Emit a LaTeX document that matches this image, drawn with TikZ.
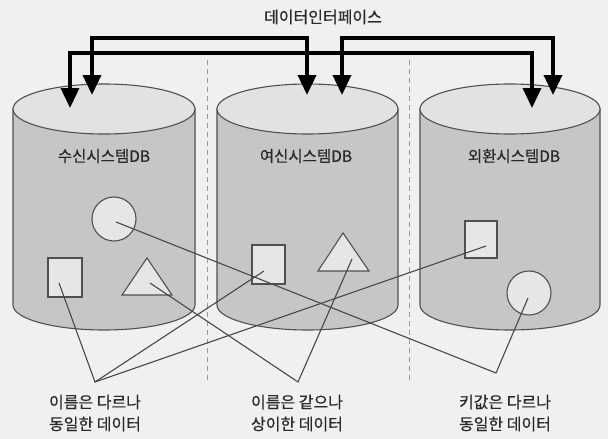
\documentclass[tikz,border=0pt]{standalone}
\usepackage{fontspec}
\newfontfamily\kr[FakeBold=0.6]{Noto Sans CJK KR}
\usetikzlibrary{arrows.meta}
\definecolor{bg}{HTML}{F0F0EF}
\definecolor{body}{HTML}{C6C6C6}
\definecolor{topc}{HTML}{E2E2E2}
\definecolor{shp}{HTML}{E6E6E6}
\definecolor{edge}{HTML}{505050}
\definecolor{txt}{HTML}{2A2A2A}
\tikzset{
  cyl/.style={draw=edge, line width=1.1pt, fill=body},
  cyltop/.style={draw=edge, line width=1.1pt, fill=topc},
  item/.style={draw=edge, line width=1.1pt, fill=shp},
  sep/.style={draw=gray!80, line width=0.9pt, dash pattern=on 5pt off 4pt},
  iface/.style={line width=3.6pt, line join=miter, {Triangle[width=18pt,length=20pt]}-{Triangle[width=18pt,length=20pt]}},
  link/.style={draw=edge!90!black, line width=1.1pt},
  lbl/.style={font=\kr\fontsize{15.5pt}{18pt}\selectfont, text=txt, inner sep=0pt},
  cap2/.style={font=\kr\fontsize{16pt}{22pt}\selectfont, text=txt, inner sep=0pt, align=center},
}
\begin{document}
\begin{tikzpicture}[x=1pt,y=-1pt]
\fill[bg] (0,0) rectangle (608,439);
\useasboundingbox (0,0) rectangle (608,439);
% separators
\draw[sep] (207,60) -- (207,382);
\draw[sep] (409,60) -- (409,382);
% cylinders
\foreach \c/\r in {104/91, 307.5/90.5, 510/90}{
  \draw[cyl] (\c-\r,109) -- (\c-\r,305) arc[start angle=180, end angle=360, x radius=\r pt, y radius=25pt] -- (\c+\r,109) -- cycle;
  \draw[cyltop] (\c,109) ellipse [x radius=\r pt, y radius=25pt];
}
\node[lbl] (l1) at (104,156) {수신시스템DB};
\node[lbl] (l2) at (306,156) {여신시스템DB};
\node[lbl] (l3) at (514,156) {외환시스템DB};
% items
\draw[item] (114,219) ellipse [x radius=22pt, y radius=22pt];
\draw[item] (48,258) rectangle (82,297);
\draw[item] (147,258) -- (172,295) -- (122,295) -- cycle;
\draw[item] (252,245) rectangle (285,284);
\draw[item] (343,233) -- (369,271) -- (318,271) -- cycle;
\draw[item] (465,221) rectangle (497,258);
\draw[item] (529,293) ellipse [x radius=22pt, y radius=22pt];
% connector end points
\coordinate (cir1) at (116,222);
\coordinate (sq1) at (59,283);
\coordinate (tri1) at (150,283);
\coordinate (sq2) at (264,271);
\coordinate (tri2) at (352,259);
\coordinate (sq3) at (486,246);
\coordinate (cir3) at (528,298);
\coordinate (p1) at (95,382);
\coordinate (p2) at (298,382);
\coordinate (p3) at (496,373);
\draw[link] (sq1) -- (p1) -- (sq2);
\draw[link] (p1) -- (sq3);
\draw[link] (tri1) -- (p2) -- (tri2);
\draw[link] (cir1) -- (p3) -- (cir3);
% interface arrows
\coordinate (b1) at (70,108); \coordinate (b2) at (532,108);
\coordinate (a1) at (92,95); \coordinate (a2) at (307,95);
\coordinate (c1) at (342,95); \coordinate (c2) at (553,95);
\draw[iface] (b1) -- (70,53) -- (532,53) -- (b2);
\draw[iface] (a1) -- (92,38) -- (307,38) -- (a2);
\draw[iface] (c1) -- (342,38) -- (553,38) -- (c2);
\node[lbl, font=\kr\fontsize{16pt}{18pt}\selectfont] (title) at (323,17) {데이터인터페이스};
% captions
\node[cap2] (t1) at (95,413) {이름은 다르나\\동일한 데이터};
\node[cap2] (t2) at (297,413) {이름은 같으나\\상이한 데이터};
\node[cap2] (t3) at (505,413) {키값은 다르나\\동일한 데이터};
\end{tikzpicture}
\end{document}
